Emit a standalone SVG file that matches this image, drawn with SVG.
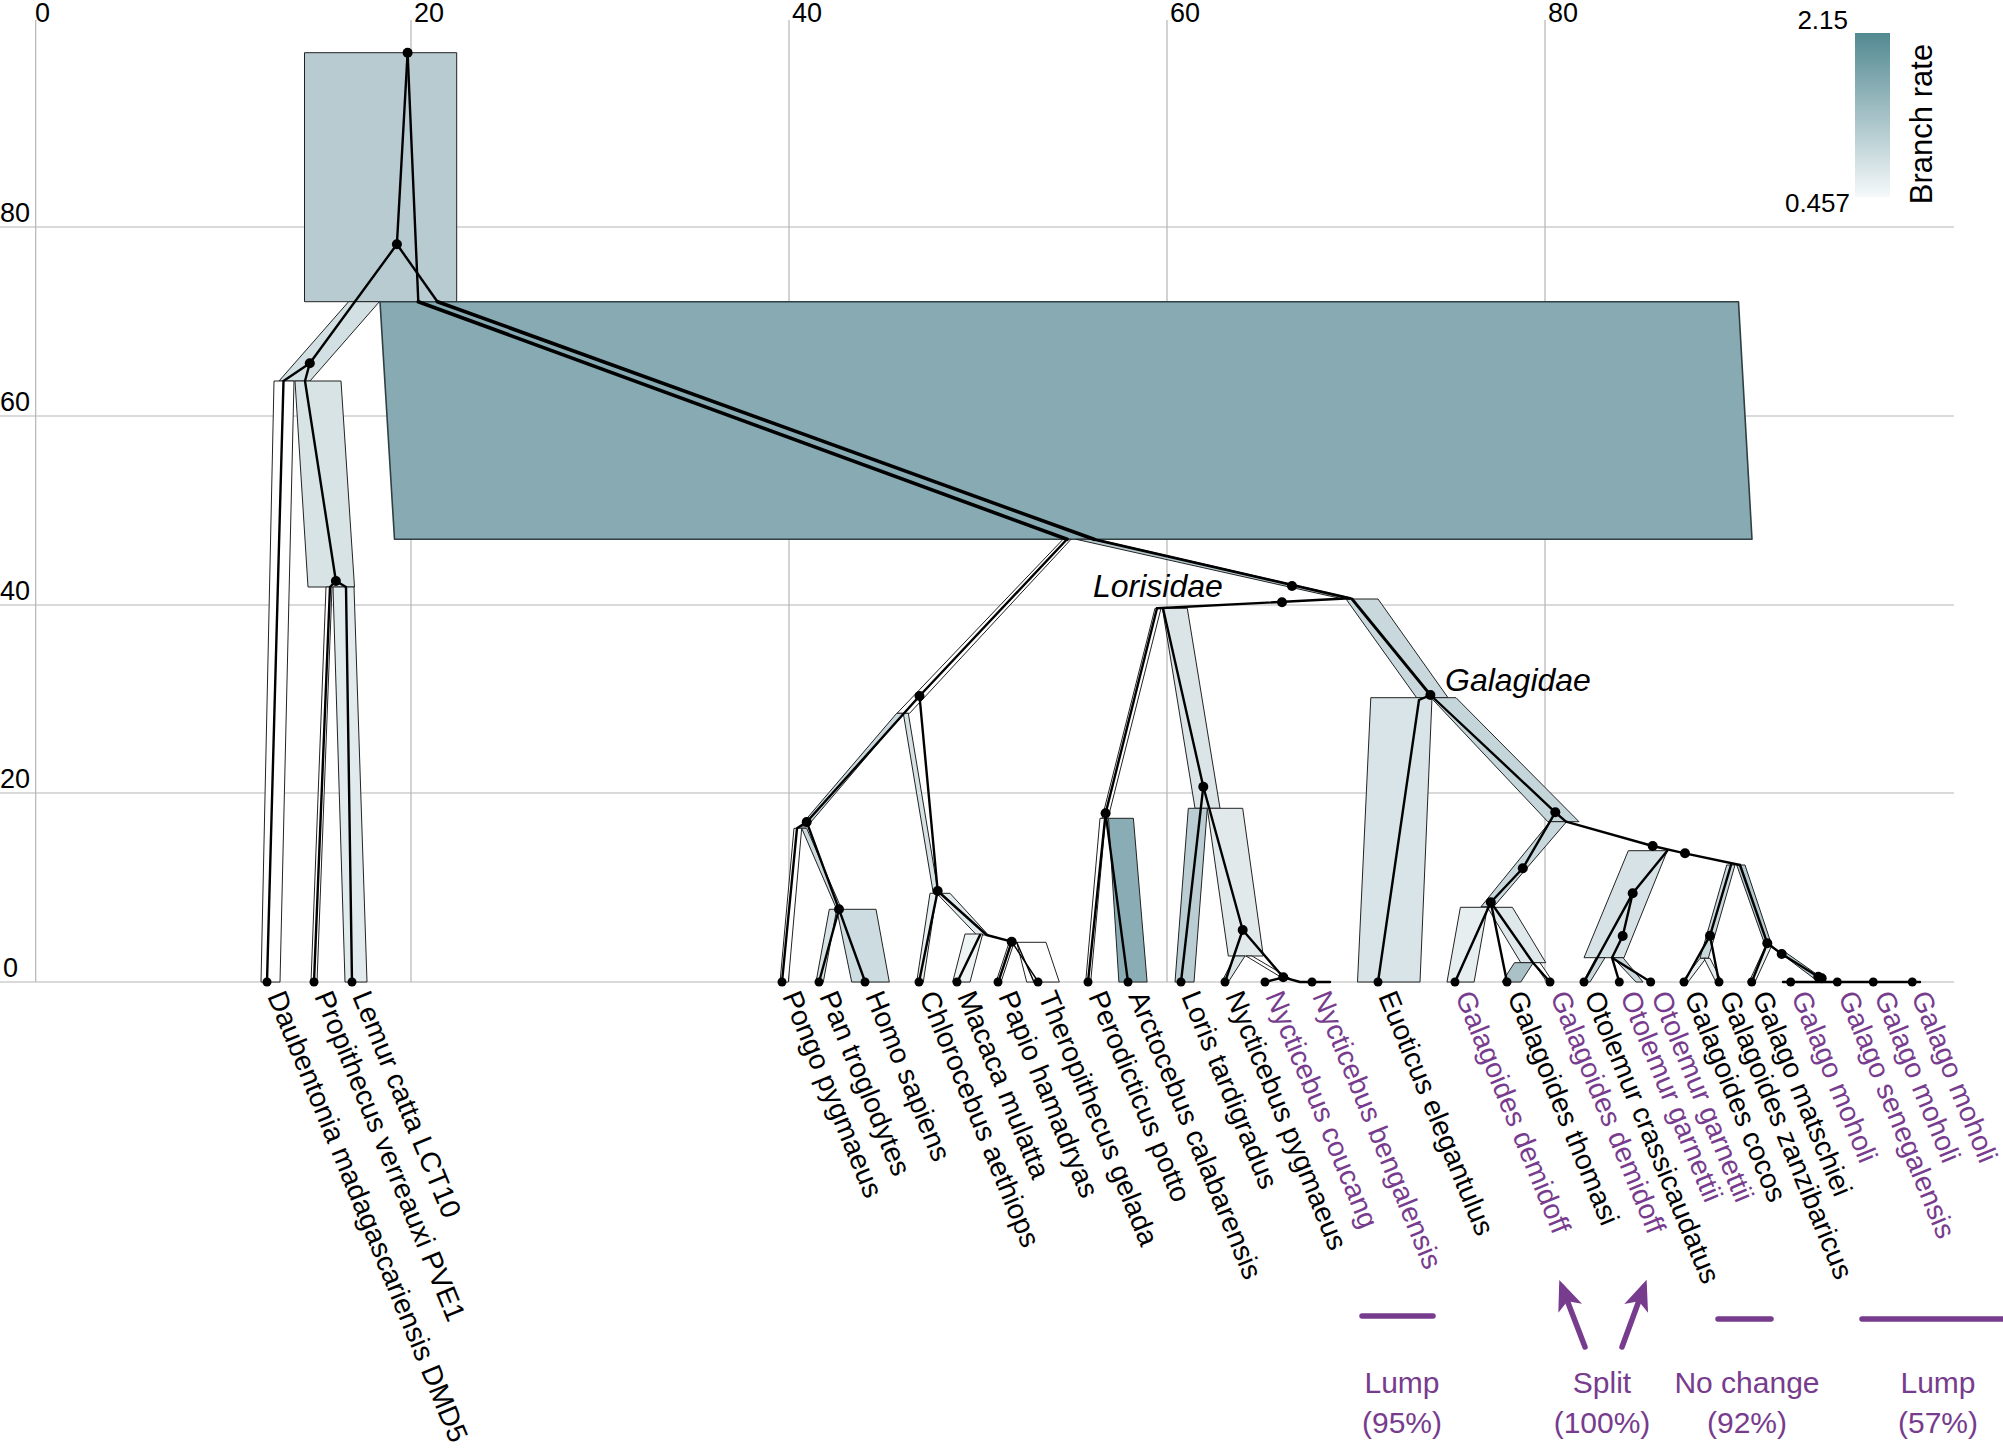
<svg xmlns="http://www.w3.org/2000/svg" width="2003" height="1454" viewBox="0 0 2003 1454">
<defs>
<linearGradient id="rate" x1="0" y1="0" x2="0" y2="1">
<stop offset="0" stop-color="#528991"/>
<stop offset="0.5" stop-color="#a4c1c6"/>
<stop offset="1" stop-color="#f5f9fa"/>
</linearGradient>
<marker id="arr" viewBox="0 0 12 10" refX="9" refY="5" markerWidth="6" markerHeight="4.6" orient="auto" markerUnits="strokeWidth">
<path d="M0,0 L12,5 L0,10 L3,5 Z" fill="#773c8d"/>
</marker>
</defs>
<style>
.grid line{stroke:#b5b5b5;stroke-width:1.2}
.ax{font-family:'Liberation Sans',Arial,sans-serif;font-size:27px;fill:#000}
.tube{stroke:#222;stroke-width:1;stroke-linejoin:round}
.br{fill:none;stroke:#000;stroke-width:2.4;stroke-linejoin:round;stroke-linecap:round}
.thick{stroke-width:3.6}
.dot{fill:#000}
.lbl{font-family:'Liberation Sans',Arial,sans-serif;font-size:28.3px;fill:#000}
.p{fill:#773c8d}
.clade{font-family:'Liberation Sans',Arial,sans-serif;font-style:italic;font-size:32px;fill:#000}
.ann{font-family:'Liberation Sans',Arial,sans-serif;font-size:30px;fill:#773c8d;text-anchor:middle}
.bar{stroke:#773c8d;stroke-width:5.5;stroke-linecap:round;fill:none}
.arrow{stroke:#773c8d;stroke-width:5.5;stroke-linecap:round;fill:none;marker-end:url(#arr)}
</style>
<rect width="2003" height="1454" fill="#fff"/>
<g id="grid" class="grid">
<line x1="35.7" y1="20" x2="35.7" y2="982"/>
<line x1="411" y1="20" x2="411" y2="982"/>
<line x1="789" y1="20" x2="789" y2="982"/>
<line x1="1167" y1="20" x2="1167" y2="982"/>
<line x1="1545" y1="20" x2="1545" y2="982"/>
<line x1="0" y1="227" x2="1954" y2="227"/>
<line x1="0" y1="416" x2="1954" y2="416"/>
<line x1="0" y1="605" x2="1954" y2="605"/>
<line x1="0" y1="793" x2="1954" y2="793"/>
<line x1="0" y1="982" x2="1954" y2="982"/>
</g>
<g id="axis-labels" class="ax">
<text x="35" y="22">0</text>
<text x="414" y="22">20</text>
<text x="792" y="22">40</text>
<text x="1170" y="22">60</text>
<text x="1548" y="22">80</text>
<text x="0" y="222">80</text>
<text x="0" y="411">60</text>
<text x="0" y="600">40</text>
<text x="0" y="788">20</text>
<text x="3" y="977">0</text>
</g>
<g id="intervals" class="tube">
<rect x="304.5" y="52.7" width="152.2" height="249" fill="#b7cbd1"/>
<polygon points="380,301.7 1738.5,301.7 1752,539.3 394.5,539.3" fill="#88abb3" stroke="#2f3f42" stroke-width="1.6"/>
<polygon points="348.6,301.7 379.4,301.7 310,381 279,381" fill="#d3e0e3"/>
<polygon points="274,381 294,381 280,982 261,982" fill="#fff"/>
<polygon points="295,381 341,381 354.5,587 308,587" fill="#d8e3e6"/>
<polygon points="326,587 332,587 317,982 311,982" fill="#fff"/>
<polygon points="333,587 354,587 367,982 345,982" fill="#e1eaec"/>
<polygon points="1063,539.3 1071,539.3 909.6,713.3 897,713.3" fill="#fff"/>
<polygon points="896.7,713.3 903.5,713.3 806.7,827 799.5,827" fill="#c9d9dd"/>
<polygon points="903.3,713.3 908.3,713.3 938.3,893.3 933.3,893.3" fill="#d5e1e4"/>
<polygon points="794,828.3 801.7,828.3 788.3,982 780,982" fill="#fff"/>
<polygon points="801.7,828.3 806.7,828.3 841.7,909.3 836.7,909.3" fill="#c9d8dc"/>
<polygon points="829.3,909.3 836.7,909.3 823.3,982 816,982" fill="#d6e2e5"/>
<polygon points="836.7,909.3 876,909.3 889.3,982 851.7,982" fill="#cddce0"/>
<polygon points="930,893.3 936.7,893.3 923.3,982 916.7,982" fill="#e8eff0"/>
<polygon points="936.7,893.3 950,893.3 988.3,935 976.7,935" fill="#e1eaec"/>
<polygon points="965,934 982.7,934 970,982 952.7,982" fill="#eef3f4"/>
<polygon points="1016.7,942.3 1046,942.3 1059.3,982 1026.7,982" fill="#fff"/>
<polygon points="1009,942.7 1014,942.7 1001,982 996,982" fill="#fff"/>
<polygon points="1076,539.3 1096,539.3 1352,598.3 1340,598.3" fill="#b5c9ce"/>
<polygon points="1346,599 1378,599 1448,697.7 1416.6,697.7" fill="#c8d8dc"/>
<polygon points="1155,608.3 1161,608.3 1108,818.3 1102,818.3" fill="#fff"/>
<polygon points="1162.4,608.3 1187.3,608.3 1220,808.3 1195,808.3" fill="#dbe5e8"/>
<polygon points="1100,818.3 1105.6,818.3 1090.7,982 1085.7,982" fill="#fff"/>
<polygon points="1108.5,818.3 1133.4,818.3 1147.1,982 1118.9,982" fill="#8aadb5"/>
<polygon points="1188.3,808.3 1207.3,808.3 1194,982 1175,982" fill="#b9cdd2"/>
<polygon points="1207.3,808.3 1242.7,808.3 1263.3,956 1228.3,956" fill="#e1e9eb"/>
<polygon points="1235,956 1245,956 1228.3,982 1221.7,982" fill="#dbe5e8"/>
<polygon points="1246,956 1252,956 1291,979 1284,979" fill="#fff"/>
<polygon points="1370.8,697.7 1432,697.7 1420,982 1357.5,982" fill="#d8e4e7"/>
<polygon points="1431,697.7 1456,697.7 1579,821.7 1547.8,821.7" fill="#c5d6da"/>
<polygon points="1550,821.7 1566.6,821.7 1493.7,906.7 1481,906.7" fill="#c8d8dc"/>
<polygon points="1460.4,907.3 1487.4,907.3 1474.1,982 1447,982" fill="#e6eef0"/>
<polygon points="1487.4,907.3 1512.4,907.3 1545.8,962.7 1520.8,962.7" fill="#dfe8ea"/>
<polygon points="1514.5,962.7 1533.3,962.7 1520.8,982 1502,982" fill="#a9c1c7"/>
<polygon points="1533.3,962.7 1540,962.7 1553,982 1547,982" fill="#fff"/>
<polygon points="1628.3,850.7 1667.3,850.7 1624,957.7 1584,957.7" fill="#d6e2e5"/>
<polygon points="1596,957.7 1605,957.7 1590,982 1583,982" fill="#c9d8dc"/>
<polygon points="1613,957.7 1623,957.7 1643,982 1636,982" fill="#c9d8dc"/>
<polygon points="1726.7,865 1735,865 1708.3,958.3 1700,958.3" fill="#c9d8dc"/>
<polygon points="1736.7,865 1745,865 1771.7,945 1765,945" fill="#b3c8ce"/>
<polygon points="1700,958.3 1706,958.3 1688,982 1682,982" fill="#e6eef0"/>
<polygon points="1704,958.3 1710,958.3 1722,982 1716,982" fill="#e6eef0"/>
<polygon points="1766,945 1772,945 1755,982 1749,982" fill="#e6eef0"/>
<polygon points="1779,952 1785,952 1822,978 1816,980" fill="#b3c8ce"/>
</g>
<g id="branches">
<polyline class="br" points="407.6,52.7 396.9,244.3"/>
<polyline class="br" points="407.6,52.7 418.3,301.7"/>
<polyline class="br thick" points="418.3,301.7 1067,539.3"/>
<polyline class="br" points="1067,539.3 919.5,696"/>
<polyline class="br" points="396.9,244.3 437.5,301.7"/>
<polyline class="br thick" points="437.5,301.7 1094,539.3"/>
<polyline class="br" style="stroke-width:2.8" points="1094,539.3 1350,598.3"/>
<polyline class="br" points="396.9,244.3 309.8,363.3"/>
<polyline class="br" points="309.8,363.3 283.5,381 267,982"/>
<polyline class="br" points="309.8,363.3 305,381 335.9,581"/>
<polyline class="br" points="335.9,581 330,587 314,982"/>
<polyline class="br" points="335.9,581 346,587 352,982"/>
<polyline class="br" points="919.5,696 806.7,822"/>
<polyline class="br" points="806.7,822 797,828.3 782,982"/>
<polyline class="br" points="806.7,822 839,909.3"/>
<polyline class="br" points="839,909.3 819,982"/>
<polyline class="br" points="839,909.3 865.2,982"/>
<polyline class="br" points="919.5,696 937.7,891"/>
<polyline class="br" points="937.7,891 919,982"/>
<polyline class="br" points="937.7,891 986.7,935 1011.7,941.7"/>
<polyline class="br" points="980,935 957.3,982"/>
<polyline class="br" points="1011.7,941.7 998.3,982"/>
<polyline class="br" style="stroke-width:1.4" points="1011.7,941.7 1038.3,982"/>
<polyline class="br" style="stroke-width:1.4" points="1016.7,942.3 1034,982"/>
<polyline class="br" points="1350,598.3 1157,608.3"/>
<polyline class="br" points="1157,608.3 1105.6,813.3"/>
<polyline class="br" points="1105.6,813.3 1088,982"/>
<polyline class="br" points="1105.6,813.3 1128,982"/>
<polyline class="br" points="1163,608.3 1203.3,786.7"/>
<polyline class="br" points="1203.3,786.7 1181,982"/>
<polyline class="br" points="1203.3,786.7 1242.7,930"/>
<polyline class="br" points="1242.7,930 1225,982"/>
<polyline class="br" points="1242.7,930 1283.3,977.3 1265,982"/>
<polyline class="br" points="1283.3,977.3 1300,982 1330,982"/>
<polyline class="br" style="stroke-width:2.8" points="1352,599 1430.4,695"/>
<polyline class="br" points="1430.4,695 1419,700 1378,982"/>
<polyline class="br" points="1430.4,695 1555.3,812.3 1566,821.7"/>
<polyline class="br" points="1555.3,812.3 1522.8,868.3 1490.8,902.3"/>
<polyline class="br" points="1490.8,902.3 1455,982"/>
<polyline class="br" points="1490.8,902.3 1507,982"/>
<polyline class="br" points="1490.8,902.3 1533,962.7 1550,982"/>
<polyline class="br" points="1566,821.7 1652.7,846 1685,853.3 1740,865"/>
<polyline class="br" points="1667.3,850.7 1632.7,893.3 1584,982"/>
<polyline class="br" points="1632.7,893.3 1622.7,936 1612,957.7 1619.3,982"/>
<polyline class="br" points="1612,957.7 1650.7,982"/>
<polyline class="br" points="1731,865 1710,935.7 1684,982"/>
<polyline class="br" points="1710,935.7 1719,982"/>
<polyline class="br" points="1740,865 1767.3,943.3 1751.7,982"/>
<polyline class="br" points="1767.3,943.3 1781.7,954 1818.3,976.7 1822,979"/>
<polyline class="br" points="1783,982 1920,982"/>
</g>
<g id="internal-nodes" class="dot">
<g id="n-root"><circle cx="407.6" cy="52.7" r="5"/></g>
<g id="n-strep"><circle cx="396.9" cy="244.3" r="5"/></g>
<g id="n-lemuriformes"><circle cx="309.8" cy="363.3" r="5"/></g>
<g id="n-prop-lemur"><circle cx="335.9" cy="581" r="5"/></g>
<g id="n-anthropoid"><circle cx="919.5" cy="696" r="5"/></g>
<g id="n-hominoid"><circle cx="806.7" cy="822" r="5"/></g>
<g id="n-homo-pan"><circle cx="839" cy="909.3" r="5"/></g>
<g id="n-cercopithecid"><circle cx="937.7" cy="891" r="5"/></g>
<g id="n-papio-thero"><circle cx="1011.7" cy="941.7" r="5"/></g>
<g id="n-lorisiformes"><circle cx="1292" cy="586" r="5"/></g>
<g id="n-lorisidae"><circle cx="1282" cy="602.3" r="5"/></g>
<g id="n-galagidae"><circle cx="1430.4" cy="695" r="5"/></g>
<g id="n-pero-arcto"><circle cx="1105.6" cy="813.3" r="5"/></g>
<g id="n-loris-nyct"><circle cx="1203.3" cy="786.7" r="5"/></g>
<g id="n-nycticebus"><circle cx="1242.7" cy="930" r="5"/></g>
<g id="n-nyct-cb"><circle cx="1283.3" cy="977.3" r="5"/></g>
<g id="n-galago-all"><circle cx="1555.3" cy="812.3" r="5"/></g>
<g id="n-gdem-a"><circle cx="1522.8" cy="868.3" r="5"/></g>
<g id="n-gdem-b"><circle cx="1490.8" cy="902.3" r="5"/></g>
<g id="n-oto-gal"><circle cx="1652.7" cy="846" r="5"/></g>
<g id="n-gal"><circle cx="1685" cy="853.3" r="5"/></g>
<g id="n-oto"><circle cx="1632.7" cy="893.3" r="5"/></g>
<g id="n-oto-b"><circle cx="1622.7" cy="936" r="5"/></g>
<g id="n-cocos-zanz"><circle cx="1710" cy="935.7" r="5"/></g>
<g id="n-galago"><circle cx="1767.3" cy="943.3" r="5"/></g>
<g id="n-moholi-a"><circle cx="1781.7" cy="954" r="5"/></g>
<g id="n-moholi-b"><circle cx="1818.3" cy="976.7" r="5"/></g>
<g id="n-moholi-c"><circle cx="1821.7" cy="978.3" r="5"/></g>
</g>
<g id="tips">
<g id="t-daubentonia"><circle class="dot" cx="267" cy="982" r="4.5"/><text class="lbl" transform="translate(267,996) rotate(67.7)">Daubentonia madagascariensis DMD5</text></g>
<g id="t-propithecus"><circle class="dot" cx="314" cy="982" r="4.5"/><text class="lbl" transform="translate(314,996) rotate(67.7)">Propithecus verreauxi PVE1</text></g>
<g id="t-lemur"><circle class="dot" cx="352" cy="982" r="4.5"/><text class="lbl" transform="translate(352,996) rotate(67.7)">Lemur catta LCT10</text></g>
<g id="t-pongo"><circle class="dot" cx="782" cy="982" r="4.5"/><text class="lbl" transform="translate(782,996) rotate(67.7)">Pongo pygmaeus</text></g>
<g id="t-pan"><circle class="dot" cx="819" cy="982" r="4.5"/><text class="lbl" transform="translate(819,996) rotate(67.7)">Pan troglodytes</text></g>
<g id="t-homo"><circle class="dot" cx="865" cy="982" r="4.5"/><text class="lbl" transform="translate(865,996) rotate(67.7)">Homo sapiens</text></g>
<g id="t-chlorocebus"><circle class="dot" cx="919" cy="982" r="4.5"/><text class="lbl" transform="translate(919,996) rotate(67.7)">Chlorocebus aethiops</text></g>
<g id="t-macaca"><circle class="dot" cx="957" cy="982" r="4.5"/><text class="lbl" transform="translate(957,996) rotate(67.7)">Macaca mulatta</text></g>
<g id="t-papio"><circle class="dot" cx="998" cy="982" r="4.5"/><text class="lbl" transform="translate(998,996) rotate(67.7)">Papio hamadryas</text></g>
<g id="t-theropithecus"><circle class="dot" cx="1038" cy="982" r="4.5"/><text class="lbl" transform="translate(1038,996) rotate(67.7)">Theropithecus gelada</text></g>
<g id="t-perodicticus"><circle class="dot" cx="1088" cy="982" r="4.5"/><text class="lbl" transform="translate(1088,996) rotate(67.7)">Perodicticus potto</text></g>
<g id="t-arctocebus"><circle class="dot" cx="1128" cy="982" r="4.5"/><text class="lbl" transform="translate(1128,996) rotate(67.7)">Arctocebus calabarensis</text></g>
<g id="t-loris"><circle class="dot" cx="1181" cy="982" r="4.5"/><text class="lbl" transform="translate(1181,996) rotate(67.7)">Loris tardigradus</text></g>
<g id="t-nyct-pygmaeus"><circle class="dot" cx="1225" cy="982" r="4.5"/><text class="lbl" transform="translate(1225,996) rotate(67.7)">Nycticebus pygmaeus</text></g>
<g id="t-nyct-coucang"><circle class="dot" cx="1265" cy="982" r="4.5"/><text class="lbl p" transform="translate(1265,996) rotate(67.7)">Nycticebus coucang</text></g>
<g id="t-nyct-bengalensis"><circle class="dot" cx="1312" cy="982" r="4.5"/><text class="lbl p" transform="translate(1312,996) rotate(67.7)">Nycticebus bengalensis</text></g>
<g id="t-euoticus"><circle class="dot" cx="1378" cy="982" r="4.5"/><text class="lbl" transform="translate(1378,996) rotate(67.7)">Euoticus elegantulus</text></g>
<g id="t-gdemidoff1"><circle class="dot" cx="1455" cy="982" r="4.5"/><text class="lbl p" transform="translate(1455,996) rotate(67.7)">Galagoides demidoff</text></g>
<g id="t-gthomasi"><circle class="dot" cx="1507" cy="982" r="4.5"/><text class="lbl" transform="translate(1507,996) rotate(67.7)">Galagoides thomasi</text></g>
<g id="t-gdemidoff2"><circle class="dot" cx="1550" cy="982" r="4.5"/><text class="lbl p" transform="translate(1550,996) rotate(67.7)">Galagoides demidoff</text></g>
<g id="t-ocrassicaudatus"><circle class="dot" cx="1584" cy="982" r="4.5"/><text class="lbl" transform="translate(1584,996) rotate(67.7)">Otolemur crassicaudatus</text></g>
<g id="t-ogarnettii1"><circle class="dot" cx="1619.3" cy="982" r="4.5"/><text class="lbl p" transform="translate(1620,996) rotate(67.7)">Otolemur garnettii</text></g>
<g id="t-ogarnettii2"><circle class="dot" cx="1650.7" cy="982" r="4.5"/><text class="lbl p" transform="translate(1651,996) rotate(67.7)">Otolemur garnettii</text></g>
<g id="t-gcocos"><circle class="dot" cx="1684" cy="982" r="4.5"/><text class="lbl" transform="translate(1684,996) rotate(67.7)">Galagoides cocos</text></g>
<g id="t-gzanzibaricus"><circle class="dot" cx="1719" cy="982" r="4.5"/><text class="lbl" transform="translate(1719,996) rotate(67.7)">Galagoides zanzibaricus</text></g>
<g id="t-gmatschiei"><circle class="dot" cx="1751.7" cy="982" r="4.5"/><text class="lbl" transform="translate(1752,996) rotate(67.7)">Galago matschiei</text></g>
<g id="t-gmoholi1"><circle class="dot" cx="1790.7" cy="982" r="4.5"/><text class="lbl p" transform="translate(1791,996) rotate(67.7)">Galago moholi</text></g>
<g id="t-gsenegalensis"><circle class="dot" cx="1837.3" cy="982" r="4.5"/><text class="lbl p" transform="translate(1838,996) rotate(67.7)">Galago senegalensis</text></g>
<g id="t-gmoholi2"><circle class="dot" cx="1873.3" cy="982" r="4.5"/><text class="lbl p" transform="translate(1874,996) rotate(67.7)">Galago moholi</text></g>
<g id="t-gmoholi3"><circle class="dot" cx="1912.3" cy="982" r="4.5"/><text class="lbl p" transform="translate(1911,996) rotate(67.7)">Galago moholi</text></g>
</g>
<g id="clade-labels" class="clade">
<text x="1093" y="597">Lorisidae</text>
<text x="1445" y="691">Galagidae</text>
</g>
<g id="annotations">
<line class="bar" x1="1362" y1="1316" x2="1433" y2="1316"/>
<text class="ann" x="1402" y="1393">Lump</text>
<text class="ann" x="1402" y="1433">(95%)</text>
<line class="arrow" x1="1585" y1="1347" x2="1562" y2="1287"/>
<line class="arrow" x1="1622" y1="1347" x2="1644" y2="1287"/>
<text class="ann" x="1602" y="1393">Split</text>
<text class="ann" x="1602" y="1433">(100%)</text>
<line class="bar" x1="1718" y1="1319" x2="1771" y2="1319"/>
<text class="ann" x="1747" y="1393">No change</text>
<text class="ann" x="1747" y="1433">(92%)</text>
<line class="bar" x1="1862" y1="1319" x2="2010" y2="1319"/>
<text class="ann" x="1938" y="1393">Lump</text>
<text class="ann" x="1938" y="1433">(57%)</text>
</g>
<g id="legend">
<rect x="1855" y="33" width="35" height="164" fill="url(#rate)"/>
<text class="ax" x="1848" y="29" text-anchor="end" style="font-size:26px">2.15</text>
<text class="ax" x="1850" y="212" text-anchor="end" style="font-size:26px">0.457</text>
<text class="ax" transform="translate(1932,124) rotate(-90)" text-anchor="middle" style="font-size:31px">Branch rate</text>
</g>
</svg>
